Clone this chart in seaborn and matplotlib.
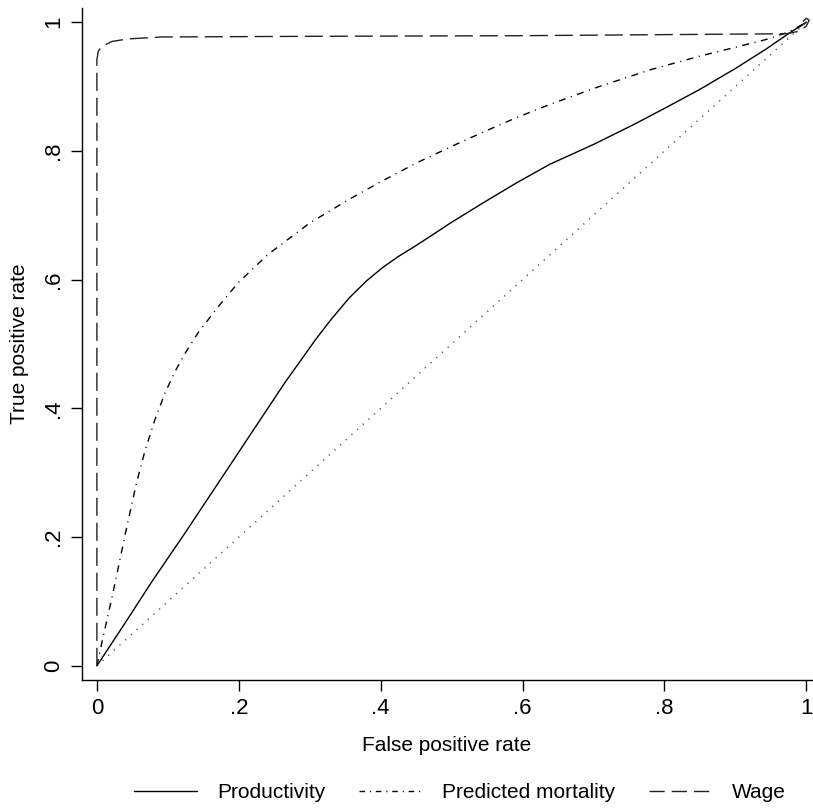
import numpy as np
import pandas as pd
import seaborn as sns
import matplotlib
matplotlib.use("Agg")
import matplotlib.pyplot as plt
from matplotlib.lines import Line2D

# ---------------- data ----------------
prod_fpr = [0, 0.04, 0.077, 0.124, 0.171, 0.218, 0.265, 0.309, 0.33, 0.356, 0.38,
            0.403, 0.425, 0.45, 0.475, 0.497, 0.544, 0.591, 0.638, 0.70, 0.755,
            0.80, 0.849, 0.90, 0.943, 0.976, 1.0]
prod_tpr = [0, 0.067, 0.130, 0.206, 0.284, 0.362, 0.440, 0.508, 0.538, 0.572, 0.598,
            0.619, 0.636, 0.653, 0.671, 0.687, 0.719, 0.750, 0.779, 0.810, 0.840,
            0.866, 0.895, 0.928, 0.958, 0.983, 1.0]

mort_fpr = [0, 0.005, 0.011, 0.021, 0.042, 0.056, 0.068, 0.082, 0.096, 0.110, 0.124,
            0.143, 0.171, 0.199, 0.241, 0.30, 0.356, 0.40, 0.45, 0.50, 0.544, 0.59,
            0.638, 0.708, 0.78, 0.849, 0.90, 0.943, 0.976, 1.0]
mort_tpr = [0, 0.026, 0.056, 0.105, 0.215, 0.285, 0.335, 0.383, 0.424, 0.457, 0.485,
            0.518, 0.558, 0.595, 0.639, 0.688, 0.725, 0.752, 0.781, 0.807, 0.829, 0.851,
            0.872, 0.900, 0.926, 0.947, 0.961, 0.973, 0.985, 1.0]

wage_fpr = [0, 0.0, 0.0, 0.002, 0.007, 0.021, 0.044, 0.093, 0.3, 0.6, 0.972,
            0.99, 1.0, 1.004, 1.0, 0.993, 0.99, 1.0]
wage_tpr = [0, 0.5, 0.942, 0.955, 0.962, 0.970, 0.974, 0.977, 0.978, 0.979, 0.982,
            0.986, 0.994, 1.003, 1.006, 0.999, 0.992, 1.0]

ref_fpr = [0, 1]
ref_tpr = [0, 1]

series_names = ["Productivity", "Predicted mortality", "Wage"]
tick_vals = [0, 0.2, 0.4, 0.6, 0.8, 1.0]
tick_labels = ["0", ".2", ".4", ".6", ".8", "1"]

# ---------------- style ----------------
sns.set_style("ticks")
plt.rcParams["font.family"] = ["Liberation Sans", "DejaVu Sans"]
plt.rcParams["text.color"] = "black"
plt.rcParams["axes.labelcolor"] = "black"
plt.rcParams["xtick.color"] = "black"
plt.rcParams["ytick.color"] = "black"

fig = plt.figure(figsize=(8.13, 8.08), dpi=100)
ax = fig.add_axes([82 / 813, 1 - 680 / 808, (812 - 82) / 813, (680 - 8) / 808])

df_prod = pd.DataFrame({"fpr": prod_fpr, "tpr": prod_tpr})
df_mort = pd.DataFrame({"fpr": mort_fpr, "tpr": mort_tpr})
df_wage = pd.DataFrame({"fpr": wage_fpr, "tpr": wage_tpr})
df_ref = pd.DataFrame({"fpr": ref_fpr, "tpr": ref_tpr})

sns.lineplot(data=df_ref, x="fpr", y="tpr", ax=ax, sort=False, estimator=None,
             color="#555555", linewidth=1.1, linestyle=(0, (0.8, 4.2)))
sns.lineplot(data=df_prod, x="fpr", y="tpr", ax=ax, sort=False, estimator=None,
             color="black", linewidth=1.0, linestyle="-")
sns.lineplot(data=df_mort, x="fpr", y="tpr", ax=ax, sort=False, estimator=None,
             color="black", linewidth=1.0, linestyle=(0, (5, 4, 0.8, 4)))
sns.lineplot(data=df_wage, x="fpr", y="tpr", ax=ax, sort=False, estimator=None,
             color="#222222", linewidth=1.0, linestyle=(0, (13, 5)))

ax.set_xlim(-0.021, 1.008)
ax.set_ylim(-0.022, 1.022)
ax.set_xticks(tick_vals)
ax.set_xticklabels(tick_labels, fontsize=16)
ax.set_yticks(tick_vals)
ax.set_yticklabels(tick_labels, fontsize=16, rotation=90, va="center")
ax.tick_params(axis="both", length=8, width=1.0, color="black", pad=5)
ax.set_xlabel("False positive rate", fontsize=15, labelpad=12)
ax.set_ylabel("True positive rate", fontsize=15, labelpad=10)
for side in ["top", "right"]:
    ax.spines[side].set_visible(False)
for side in ["left", "bottom"]:
    ax.spines[side].set_linewidth(1.0)
    ax.spines[side].set_color("black")

handles = [
    Line2D([], [], color="black", linewidth=1.0, linestyle="-"),
    Line2D([], [], color="black", linewidth=1.0, linestyle=(0, (4, 3.5, 0.8, 3.5))),
    Line2D([], [], color="#222222", linewidth=1.0, linestyle=(0, (11, 5))),
]
fig.legend(handles, series_names, loc="center", bbox_to_anchor=(460 / 813, 1 - 793 / 808),
           ncol=3, frameon=False, fontsize=15, handlelength=3.0, handletextpad=1.0,
           columnspacing=1.6)

fig.savefig("out.png", dpi=100)
